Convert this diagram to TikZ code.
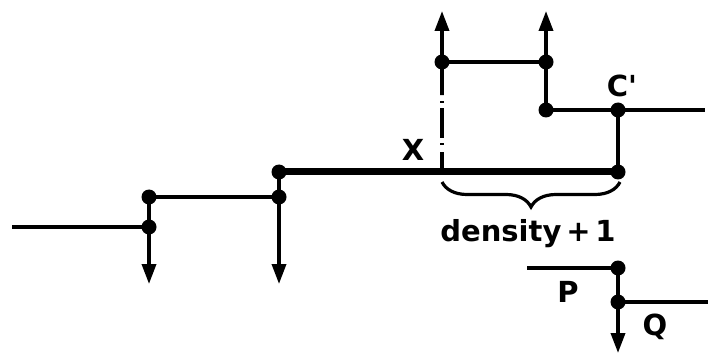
\documentclass[tikz,border=0pt]{standalone}
\usepackage{fontspec}
\setmainfont{DejaVu Sans}
\usetikzlibrary{arrows.meta,decorations.pathreplacing}
\begin{document}
\begin{tikzpicture}[x=1pt,y=-1pt,
  wire/.style={line width=3.6pt},
  heavy/.style={line width=7pt},
  arr/.style={line width=3.6pt,-{Triangle[length=20pt,width=14pt]}},
  dot/.style={circle,fill=black,inner sep=0pt,minimum size=15pt},
  lbl/.style={font=\fontsize{29}{31}\selectfont\bfseries},
  dashdot/.style={line width=3.6pt,dash pattern=on 20pt off 7pt on 2pt off 5pt on 30pt off 5pt on 2pt off 6pt}]
\useasboundingbox (0,0) rectangle (708,355);
% left staircase
\coordinate (l0) at (12,227);
\node[dot] (a1) at (149,227) {};
\node[dot] (a2) at (149,197) {};
\coordinate (a3) at (149,284);
\node[dot] (b1) at (279,197) {};
\node[dot] (b2) at (279,172) {};
\coordinate (b3) at (279,284);
% upper part
\coordinate (xp) at (442,172);
\coordinate (xq) at (442,95);
\node[dot] (c1) at (442,62) {};
\coordinate (c0) at (442,11);
\node[dot] (d1) at (546,62) {};
\coordinate (d0) at (546,11);
\node[dot] (d2) at (546,110) {};
\node[dot] (e1) at (618,110) {};
\coordinate (e0) at (705,110);
\node[dot] (e2) at (618,172) {};
% lower part
\coordinate (p0) at (527,268);
\node[dot] (p1) at (618,268) {};
\node[dot] (p2) at (618,302) {};
\coordinate (q0) at (708,302);
\coordinate (q1) at (618,353);

\draw[wire] (l0) -- (a1.center);
\draw[wire] (a2.center) -- (a1.center);
\draw[arr] (a1.center) -- (a3);
\draw[wire] (a2.center) -- (b1.center);
\draw[wire] (b2.center) -- (b1.center);
\draw[arr] (b1.center) -- (b3);
\draw[heavy] (b2.center) -- (e2.center);
\draw[dashdot] (xp) -- (xq);
\draw[wire] (xq) -- (c1.center);
\draw[arr] (c1.center) -- (c0);
\draw[wire] (c1.center) -- (d1.center);
\draw[arr] (d1.center) -- (d0);
\draw[wire] (d1.center) -- (d2.center);
\draw[wire] (d2.center) -- (e0);
\draw[wire] (e1.center) -- (e2.center);
\draw[wire] (p0) -- (p1.center);
\draw[wire] (p1.center) -- (p2.center);
\draw[wire] (p2.center) -- (q0);
\draw[arr] (p2.center) -- (q1);

\draw[line width=3.2pt,decorate,decoration={brace,mirror,amplitude=25pt}]
  (442,182) -- (620,182);

\node[lbl] (lx) at (413,150) {X};
\node[lbl] (lc) at (622,86) {C\textquotesingle};
\node[lbl] (ld) at (528,234) {density\,+\,1};
\node[lbl] (lp) at (568,292) {P};
\node[lbl] (lq) at (655,327) {Q};
\end{tikzpicture}
\end{document}
